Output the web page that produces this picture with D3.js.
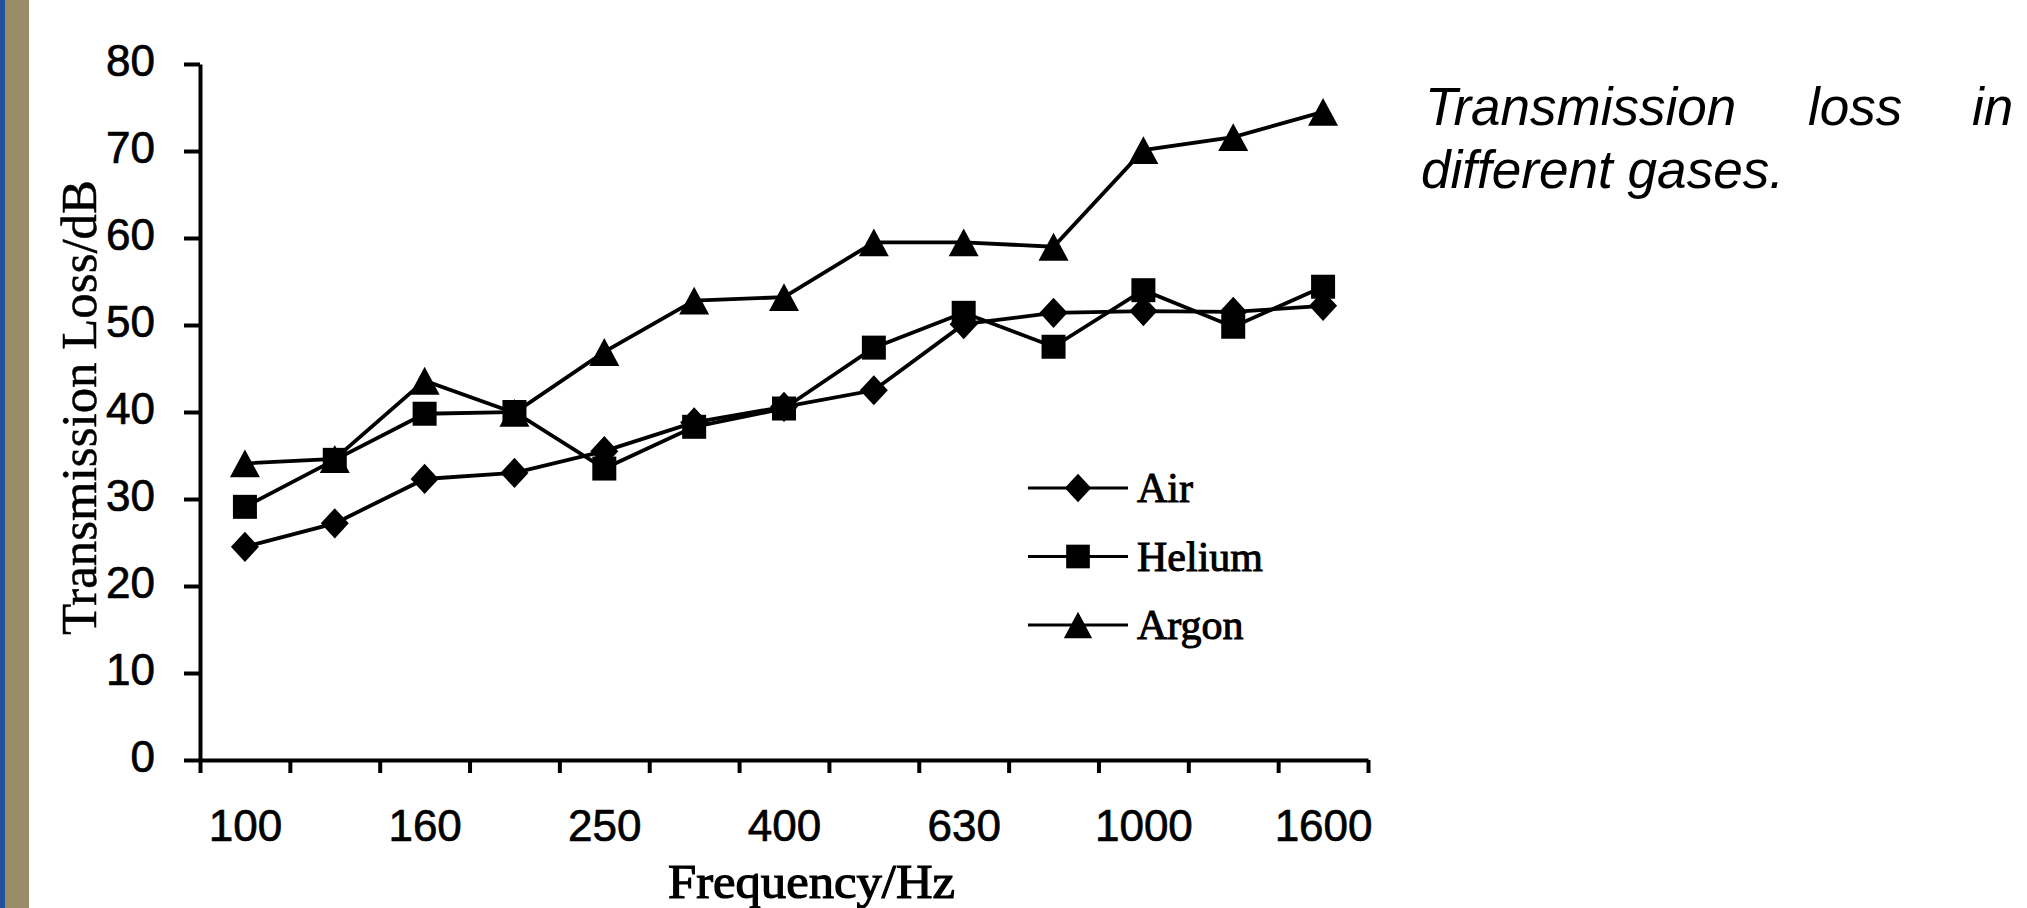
<!DOCTYPE html>
<html>
<head>
<meta charset="utf-8">
<script src="https://d3js.org/d3.v7.min.js"></script>
<style>
  body { margin: 0; background: #fff; }
  .tick text { font-family: "Liberation Sans", Arial, sans-serif; font-size: 44px; fill: #000; stroke: #000; stroke-width: 0.7px; }
  .serif { font-family: "Liberation Serif", "Times New Roman", serif; fill: #000; }
</style>
</head>
<body>
<div class="chart"></div>
<script>
const freqs = ["100", "125", "160", "200", "250", "315", "400", "500", "630", "800", "1000", "1250", "1600"];
const freqLabels = ["100", "160", "250", "400", "630", "1000", "1600"];
const yTicks = [0, 10, 20, 30, 40, 50, 60, 70, 80];

const airLoss    = [24.5, 27.2, 32.3, 33.0, 35.5, 38.8, 40.6, 42.5, 50.1, 51.4, 51.6, 51.5, 52.2];
const heliumLoss = [29.1, 34.5, 39.8, 40.0, 33.5, 38.3, 40.4, 47.4, 51.4, 47.5, 54.0, 49.8, 54.4];
const argonLoss  = [34.1, 34.6, 43.6, 39.9, 46.9, 52.8, 53.2, 59.5, 59.5, 59.0, 70.1, 71.6, 74.5];

const seriesNames = ["Air", "Helium", "Argon"];
const captionWords = ["Transmission", "loss", "in"];
const captionLine2 = "different gases.";

const width = 2027, height = 908;

const svg = d3.select('.chart').append('svg')
    .attr("width", width)
    .attr("height", height);

// slide edge bars
svg.append('rect').attr('x', 0).attr('y', 0).attr('width', 5).attr('height', height).attr('fill', '#24519c');
svg.append('rect').attr('x', 5).attr('y', 0).attr('width', 24).attr('height', height).attr('fill', '#9b8c68');

const xScale = d3.scalePoint()
    .domain(freqs)
    .range([200, 1368])
    .padding(0.5);

const xEdge = d3.scaleLinear()
    .domain([0, freqs.length])
    .range([200, 1368]);

const yScale = d3.scaleLinear()
    .domain([0, 80])
    .range([760, 64]);

// y axis
const yAxis = svg.append("g")
    .attr("class", "y-axis")
    .attr("transform", "translate(200,0)")
    .call(d3.axisLeft(yScale).tickValues(yTicks).tickSize(16).tickSizeOuter(0).tickPadding(29));
yAxis.selectAll("path, line").attr("stroke", "#000").attr("stroke-width", 4);
yAxis.selectAll("text").attr("dy", "0.26em");

// x axis tick marks between categories
const xAxis = svg.append("g")
    .attr("class", "x-axis")
    .attr("transform", "translate(0,760)")
    .call(d3.axisBottom(xEdge).tickValues(d3.range(freqs.length + 1)).tickSize(13).tickSizeOuter(0).tickFormat(""));
xAxis.selectAll("path, line").attr("stroke", "#000").attr("stroke-width", 4);

// x labels on every other category
const xLabels = svg.append("g")
    .attr("transform", "translate(0,760)")
    .call(d3.axisBottom(xScale).tickValues(freqLabels).tickSize(0).tickPadding(50));
xLabels.select(".domain").remove();

// axis titles
svg.append("text")
    .attr("class", "serif")
    .attr("x", 668)
    .attr("y", 898)
    .attr("font-size", 48)
    .attr("stroke", "#000")
    .attr("stroke-width", 1.2)
    .attr("textLength", 287)
    .attr("lengthAdjust", "spacingAndGlyphs")
    .text("Frequency/Hz");

svg.append("text")
    .attr("class", "serif")
    .attr("transform", "translate(96,635) rotate(-90)")
    .attr("font-size", 50)
    .attr("stroke", "#000")
    .attr("stroke-width", 0.5)
    .attr("textLength", 455)
    .attr("lengthAdjust", "spacingAndGlyphs")
    .text("Transmission Loss/dB");

// marker shapes
const symDiamond = {
    draw(ctx, size) {
        const r = Math.sqrt(size) / 2;
        ctx.moveTo(0, -r * 1.08);
        ctx.lineTo(r, 0);
        ctx.lineTo(0, r * 1.08);
        ctx.lineTo(-r, 0);
        ctx.closePath();
    }
};
const symTriangle = {
    draw(ctx, size) {
        const w = Math.sqrt(size);
        const h = w * 0.93;
        ctx.moveTo(0, -h / 2);
        ctx.lineTo(w / 2, h / 2);
        ctx.lineTo(-w / 2, h / 2);
        ctx.closePath();
    }
};

const series = [
    { name: "Argon", values: argonLoss, type: symTriangle, size: 900 },
    { name: "Helium", values: heliumLoss, type: d3.symbolSquare, size: 576 },
    { name: "Air", values: airLoss, type: symDiamond, size: 784 }
];

const line = d3.line()
    .x((d, i) => xScale(freqs[i]))
    .y(d => yScale(d));

series.forEach(s => {
    svg.append("path")
        .datum(s.values)
        .attr("d", line)
        .attr("fill", "none")
        .attr("stroke", "#000")
        .attr("stroke-width", 3.8);
});

series.forEach(s => {
    svg.selectAll(".m-" + s.name)
        .data(s.values)
        .enter()
        .append("path")
        .attr("class", "m-" + s.name)
        .attr("transform", (d, i) => `translate(${xScale(freqs[i])},${yScale(d)})`)
        .attr("d", d3.symbol().type(s.type).size(s.size))
        .attr("fill", "#000");
});

// legend
const legendTypes = { Air: [symDiamond, 700], Helium: [d3.symbolSquare, 560], Argon: [symTriangle, 800] };
const legend = svg.append("g")
    .selectAll("g")
    .data(seriesNames)
    .enter()
    .append("g")
    .attr("transform", (d, i) => `translate(1028,${488 + i * 68.5})`);

legend.append("line")
    .attr("x1", 0).attr("x2", 100)
    .attr("stroke", "#000")
    .attr("stroke-width", 3);

legend.append("path")
    .attr("transform", "translate(50,0)")
    .attr("d", d => d3.symbol().type(legendTypes[d][0]).size(legendTypes[d][1])())
    .attr("fill", "#000");

legend.append("text")
    .attr("class", "serif")
    .attr("x", 109)
    .attr("y", 14)
    .attr("font-size", 42)
    .attr("stroke", "#000")
    .attr("stroke-width", 1)
    .text(d => d);

// caption on the right, justified first line
const capX = [1425, 1808, 1972];
svg.append("g")
    .selectAll("text")
    .data(captionWords)
    .enter()
    .append("text")
    .attr("x", (d, i) => capX[i])
    .attr("y", 125)
    .attr("font-family", "\"Liberation Sans\", Arial, sans-serif")
    .attr("font-style", "italic")
    .attr("font-size", 53)
    .text(d => d);

svg.append("text")
    .attr("x", 1421)
    .attr("y", 188)
    .attr("font-family", "\"Liberation Sans\", Arial, sans-serif")
    .attr("font-style", "italic")
    .attr("font-size", 53)
    .attr("textLength", 363)
    .attr("lengthAdjust", "spacingAndGlyphs")
    .text(captionLine2);
</script>
</body>
</html>
